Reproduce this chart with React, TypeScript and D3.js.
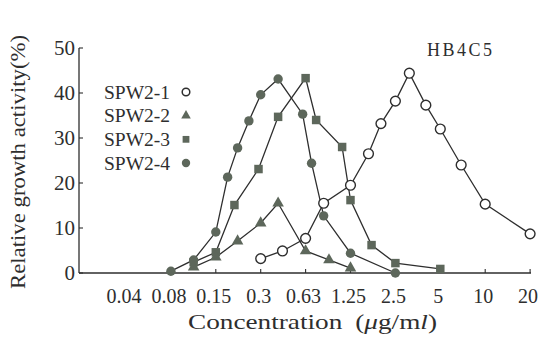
import React from "react";
import * as d3 from "d3";

// concentration ticks (µg/ml), two-fold dilution series
const concTicks = [0.04, 0.08, 0.15, 0.3, 0.63, 1.25, 2.5, 5, 10, 20];
const concLabels = ["0.04", "0.08", "0.15", "0.3", "0.63", "1.25", "2.5", "5", "10", "20"];
const yTicks = [0, 10, 20, 30, 40, 50];

// [concentration, relative growth activity %]
const spw21: [number, number][] = [
  [0.3, 3.2], [0.43, 4.9], [0.63, 7.7], [0.83, 15.5], [1.25, 19.5], [1.65, 26.5],
  [2.0, 33.2], [2.5, 38.2], [3.1, 44.4], [4, 37.3], [5, 32], [6.9, 24], [10, 15.3], [20, 8.7],
];
const spw22: [number, number][] = [
  [0.11, 1.3], [0.15, 3.5], [0.21, 7.1], [0.3, 11.1], [0.4, 15.5], [0.63, 4.9], [0.9, 2.9], [1.25, 1.1],
];
const spw23: [number, number][] = [
  [0.11, 2.4], [0.15, 4.6], [0.2, 15.1], [0.29, 23.1], [0.4, 34.7], [0.63, 43.3], [0.74, 34],
  [1.1, 28], [1.25, 16.2], [1.73, 6.2], [2.5, 2.2], [5, 0.9],
];
const spw24: [number, number][] = [
  [0.08, 0.4], [0.11, 2.9], [0.15, 9.1], [0.18, 21.3], [0.21, 27.8], [0.25, 33.8], [0.3, 39.6],
  [0.4, 43.1], [0.6, 35.3], [0.69, 24.4], [0.83, 12.7], [1.25, 4.4], [2.5, 0],
];

const legendNames = ["SPW2-1", "SPW2-2", "SPW2-3", "SPW2-4"];

const W = 551;
const H = 337;
const ink = "#2e2e2e";
const mark = "#5d675b";
const serif = { fontFamily: "Liberation Serif, DejaVu Serif, serif" };

const App = () => {
  const x0 = 126;
  const step = 44.9;
  const left = 79;
  const right = 531;

  // piecewise log scale so the labelled dilutions sit evenly
  const xLog = d3
    .scaleLinear()
    .domain(concTicks.map(Math.log))
    .range(concTicks.map((_, i) => x0 + i * step));
  const x = (c: number) => xLog(Math.log(c));

  const y = d3.scaleLinear().domain([0, 50]).range([273, 48]);

  const line = d3
    .line<[number, number]>()
    .x((d) => x(d[0]))
    .y((d) => y(d[1]));

  const tri = d3.symbol().type(d3.symbolTriangle).size(58)();
  const sq = d3.symbol().type(d3.symbolSquare).size(72)();
  const triLeg = d3.symbol().type(d3.symbolTriangle).size(40)();
  const sqLeg = d3.symbol().type(d3.symbolSquare).size(46)();

  const series = [spw24, spw23, spw22, spw21];

  const legendY = d3.scalePoint<string>().domain(legendNames).range([92, 163]);

  return (
    <svg width={W} height={H} style={{ position: "absolute", left: 0, top: 0, background: "#fff" }}>
      {/* axes */}
      <line x1={left} x2={left} y1={y(50)} y2={y(0)} stroke={ink} strokeWidth={1.3} />
      <line x1={left} x2={right} y1={y(0)} y2={y(0)} stroke={ink} strokeWidth={1.3} />
      {yTicks.map((t) => (
        <g key={t}>
          <line x1={left} x2={left + 4} y1={y(t)} y2={y(t)} stroke={ink} strokeWidth={1.1} />
          <text x={75} y={y(t)} dy="0.35em" textAnchor="end" style={serif} fontSize={21} fill={ink}>
            {t}
          </text>
        </g>
      ))}
      {concTicks.map((c, i) => (
        <g key={c}>
          {i > 0 && <line x1={x(c)} x2={x(c)} y1={y(0)} y2={y(0) - 4} stroke={ink} strokeWidth={1.1} />}
          <text x={x(c) - 2} y={303} textAnchor="middle" style={serif} fontSize={20} fill={ink}>
            {concLabels[i]}
          </text>
        </g>
      ))}

      {/* curves */}
      {series.map((s, i) => (
        <path key={i} d={line(s) || ""} fill="none" stroke={ink} strokeWidth={1.3} />
      ))}
      {spw24.map((d, i) => (
        <circle key={"c" + i} cx={x(d[0])} cy={y(d[1])} r={4.7} fill={mark} />
      ))}
      {spw23.map((d, i) => (
        <path key={"s" + i} d={sq || ""} transform={`translate(${x(d[0])},${y(d[1])})`} fill={mark} />
      ))}
      {spw22.map((d, i) => (
        <path key={"t" + i} d={tri || ""} transform={`translate(${x(d[0])},${y(d[1])})`} fill={mark} />
      ))}
      {spw21.map((d, i) => (
        <circle key={"o" + i} cx={x(d[0])} cy={y(d[1])} r={4.9} fill="#fff" stroke={ink} strokeWidth={1.4} />
      ))}

      {/* legend */}
      {legendNames.map((n, i) => {
        const ly = legendY(n) as number;
        return (
          <g key={n}>
            <text x={104} y={ly} dy="0.35em" style={serif} fontSize={19.5} fill={ink}>
              {n}
            </text>
            {i === 0 && <circle cx={186} cy={ly} r={3.8} fill="#fff" stroke={ink} strokeWidth={1.5} />}
            {i === 1 && <path d={triLeg || ""} transform={`translate(186,${ly})`} fill={mark} />}
            {i === 2 && <path d={sqLeg || ""} transform={`translate(186,${ly})`} fill={mark} />}
            {i === 3 && <circle cx={186} cy={ly} r={4.2} fill={mark} />}
          </g>
        );
      })}

      <text x={427} y={56} style={serif} fontSize={18} letterSpacing={2.5} fill={ink}>
        HB4C5
      </text>

      <text
        transform={`translate(25,162) rotate(-90)`}
        textAnchor="middle"
        style={serif}
        fontSize={21}
        fill={ink}
        textLength={254}
        lengthAdjust="spacingAndGlyphs"
      >
        Relative growth activity(%)
      </text>
      <text
        x={188}
        y={329}
        style={serif}
        fontSize={21}
        fill={ink}
        textLength={249}
        lengthAdjust="spacingAndGlyphs"
      >
        Concentration
        <tspan dx={10}>(</tspan>
        <tspan fontStyle="italic">μ</tspan>g/m<tspan fontStyle="italic">l</tspan>)
      </text>
    </svg>
  );
};

export default App;
